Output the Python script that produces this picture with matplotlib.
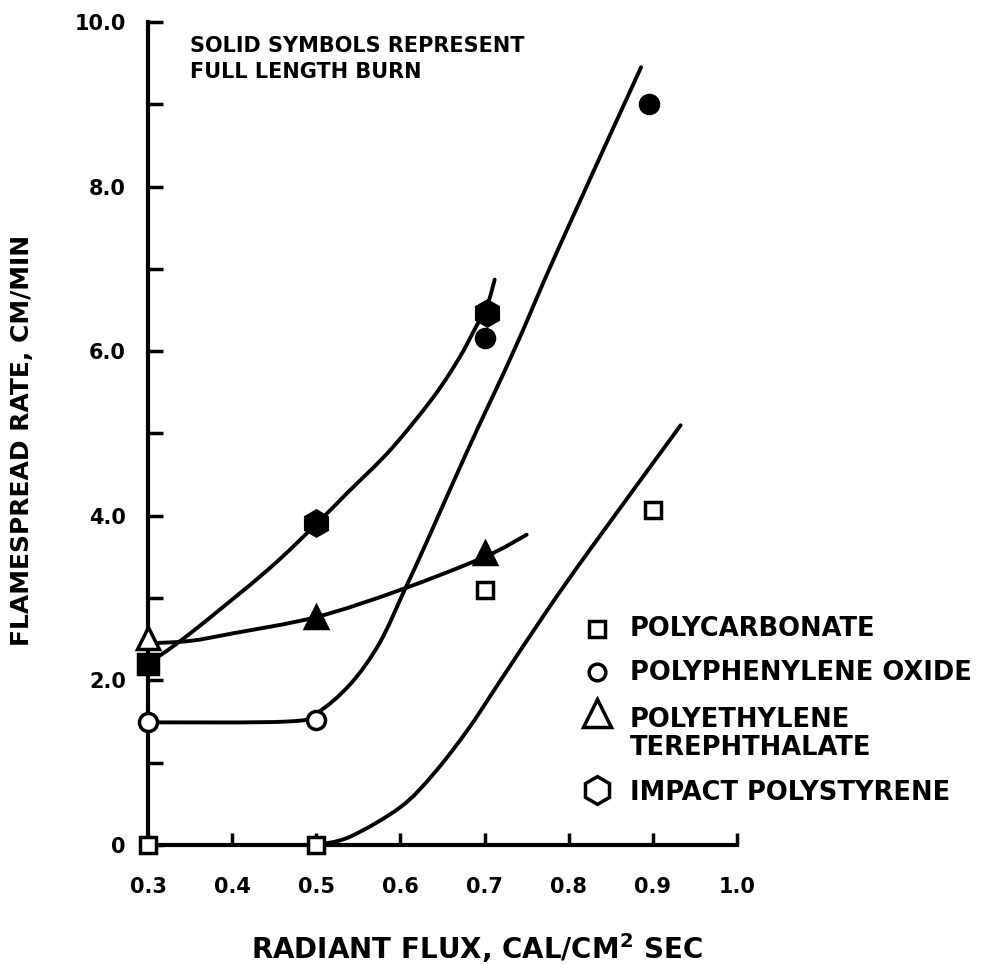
import matplotlib.pyplot as plt
from matplotlib.path import Path
from matplotlib.patches import PathPatch

plt.rcParams['font.family'] = 'DejaVu Sans'
plt.rcParams['font.weight'] = 'bold'
plt.rcParams['mathtext.fontset'] = 'dejavusans'

# Pontos medidos (marcadores)
pc_x = [0.3, 0.5, 0.7, 0.9]
pc_y = [0.0, 0.0, 3.1, 4.07]

ppo_open_x = [0.3, 0.5]
ppo_open_y = [1.5, 1.52]
ppo_solid_x = [0.7, 0.895]
ppo_solid_y = [6.16, 9.0]

pet_open_x = [0.3]
pet_open_y = [2.52]
pet_solid_x = [0.5, 0.7]
pet_solid_y = [2.77, 3.55]

ps_solid_x = [0.5, 0.703]
ps_solid_y = [3.91, 6.47]
sq_solid_x = [0.3]
sq_solid_y = [2.2]

# Curvas desenhadas a mao
pc_curve_x = [0.5, 0.54, 0.6, 0.639, 0.68, 0.719, 0.775, 0.826, 0.933]
pc_curve_y = [0.0, 0.10, 0.46, 0.86, 1.40, 2.0, 2.86, 3.6, 5.10]

ppo_curve_x = [0.3, 0.465, 0.5, 0.54, 0.575, 0.605, 0.632, 0.68, 0.735, 0.787, 0.886]
ppo_curve_y = [1.49, 1.5, 1.6, 1.95, 2.45, 3.1, 3.7, 4.8, 6.01, 7.23, 9.45]

pet_curve_x = [0.3, 0.35, 0.4, 0.5, 0.6, 0.7, 0.75]
pet_curve_y = [2.45, 2.48, 2.57, 2.77, 3.1, 3.5, 3.77]

ps_curve_x = [0.3, 0.35, 0.442, 0.5, 0.537, 0.588, 0.639, 0.67, 0.69, 0.703, 0.712]
ps_curve_y = [2.2, 2.57, 3.34, 3.9, 4.28, 4.80, 5.44, 5.92, 6.3, 6.55, 6.87]

legend_labels = ['POLYCARBONATE', 'POLYPHENYLENE OXIDE',
                 'POLYETHYLENE\nTEREPHTHALATE', 'IMPACT POLYSTYRENE']


def smooth_path(xs, ys):
    # curva suave passando pelos pontos (Catmull-Rom -> Bezier cubica)
    pts = list(zip(xs, ys))
    verts = [pts[0]]
    codes = [Path.MOVETO]
    n = len(pts)
    for i in range(n - 1):
        p0 = pts[i - 1] if i > 0 else pts[i]
        p1 = pts[i]
        p2 = pts[i + 1]
        p3 = pts[i + 2] if i + 2 < n else pts[i + 1]
        c1 = (p1[0] + (p2[0] - p0[0]) / 6, p1[1] + (p2[1] - p0[1]) / 6)
        c2 = (p2[0] - (p3[0] - p1[0]) / 6, p2[1] - (p3[1] - p1[1]) / 6)
        verts += [c1, c2, p2]
        codes += [Path.CURVE4] * 3
    return Path(verts, codes)


fig = plt.figure(figsize=(9.81, 9.64), dpi=100)
ax = fig.add_axes([148 / 981, 1 - 845 / 964, 589 / 981, 823 / 964])

for cx, cy in [(pc_curve_x, pc_curve_y), (ppo_curve_x, ppo_curve_y),
               (pet_curve_x, pet_curve_y), (ps_curve_x, ps_curve_y)]:
    ax.add_patch(PathPatch(smooth_path(cx, cy), fill=False, edgecolor='black',
                           lw=2.8, capstyle='round', zorder=2))

kw = dict(linestyle='none', markeredgecolor='black', markeredgewidth=2.5,
          clip_on=False, zorder=3)
ax.plot(pc_x, pc_y, marker='s', markersize=11, markerfacecolor='white', **kw)
ax.plot(ppo_open_x, ppo_open_y, marker='o', markersize=13, markerfacecolor='white', **kw)
ax.plot(ppo_solid_x, ppo_solid_y, marker='o', markersize=13, markerfacecolor='black', **kw)
ax.plot(pet_open_x, pet_open_y, marker='^', markersize=16, markerfacecolor='white', **kw)
ax.plot(pet_solid_x, pet_solid_y, marker='^', markersize=16, markerfacecolor='black', **kw)
ax.plot(ps_solid_x, ps_solid_y, marker='h', markersize=18, markerfacecolor='black', **kw)
ax.plot(sq_solid_x, sq_solid_y, marker='s', markersize=14, markerfacecolor='black', **kw)

ax.set_xlim(0.3, 1.0)
ax.set_ylim(0, 10)
ax.set_xticks([0.3, 0.4, 0.5, 0.6, 0.7, 0.8, 0.9, 1.0])
ax.set_xticklabels(['0.3', '0.4', '0.5', '0.6', '0.7', '0.8', '0.9', '1.0'])
ax.set_yticks([0, 2, 4, 6, 8, 10])
ax.set_yticklabels(['0', '2.0', '4.0', '6.0', '8.0', '10.0'])
ax.set_yticks([1, 3, 5, 7, 9], minor=True)

ax.spines['top'].set_visible(False)
ax.spines['right'].set_visible(False)
ax.spines['left'].set_linewidth(3)
ax.spines['bottom'].set_linewidth(3)
ax.tick_params(axis='y', which='both', direction='in', length=11, width=2.5,
               labelsize=15, pad=16)
ax.tick_params(axis='x', direction='in', length=9, width=2.5, labelsize=15, pad=23)

ax.set_xlabel(r'RADIANT FLUX, CAL/CM$^{\mathbf{2}}$ SEC', fontsize=20, fontweight='bold')
ax.xaxis.set_label_coords(0.559, -0.105)
ax.set_ylabel('FLAMESPREAD RATE, CM/MIN', fontsize=18, fontweight='bold')
ax.yaxis.set_label_coords(-0.193, 0.491)

ax.text(0.071, 0.983, 'SOLID SYMBOLS REPRESENT\nFULL LENGTH BURN',
        transform=ax.transAxes, fontsize=15, fontweight='bold',
        va='top', ha='left', linespacing=1.4)

# Legenda manual
leg_marker_y = [0.262, 0.210, 0.160, 0.067]
leg_marker = ['s', 'o', '^', 'h']
leg_size = [12, 12, 20, 20]
leg_text_y = [[0.262], [0.209], [0.152, 0.118], [0.063]]
for my, m, ms, ty, lab in zip(leg_marker_y, leg_marker, leg_size, leg_text_y,
                              legend_labels):
    ax.plot([0.762], [my], marker=m, markersize=ms, markerfacecolor='white',
            markeredgecolor='black', markeredgewidth=2.5, transform=ax.transAxes,
            clip_on=False)
    for yy, line in zip(ty, lab.split('\n')):
        ax.text(0.818, yy, line, transform=ax.transAxes, fontsize=18.5,
                fontweight='bold', va='center', ha='left')

fig.savefig('out.png', dpi=100)
